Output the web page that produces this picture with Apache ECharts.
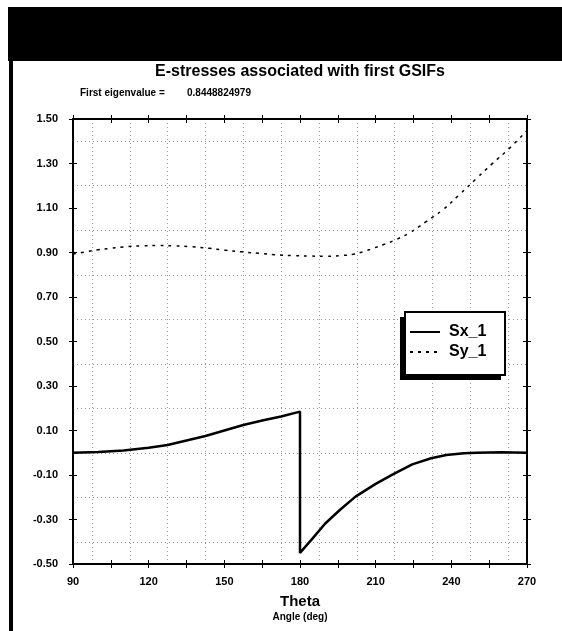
<!DOCTYPE html>
<html>
<head>
<meta charset="utf-8">
<script src="https://cdn.jsdelivr.net/npm/echarts@6/dist/echarts.min.js"></script>
<style>
  html, body { margin: 0; padding: 0; background: #fff; }
  #chart { width: 562px; height: 631px; }
</style>
</head>
<body>
<div id="chart"></div>
<script>
// values
const sxAngles = [90, 100, 110, 120, 127.5, 135, 142.5, 150, 157.5, 165, 172.5, 180, 180, 185, 190, 196, 202, 210, 217, 224.5, 232, 238, 245, 250, 260, 270]
const sxValues = [0.0, 0.003, 0.01, 0.022, 0.035, 0.055, 0.075, 0.1, 0.125, 0.145, 0.163, 0.185, -0.45, -0.385, -0.318, -0.255, -0.197, -0.14, -0.096, -0.052, -0.025, -0.01, -0.002, 0.0, 0.002, 0.0]

const syAngles = [90, 95, 100, 105, 110, 117, 124, 130, 137, 144, 150, 157, 164, 170, 177, 184, 190, 196, 201, 205, 209, 213, 217, 223, 230, 236.5, 243, 250, 256, 263, 270]
const syValues = [0.893, 0.903, 0.912, 0.919, 0.925, 0.93, 0.931, 0.93, 0.926, 0.919, 0.911, 0.903, 0.896, 0.89, 0.886, 0.884, 0.883, 0.886, 0.892, 0.903, 0.919, 0.935, 0.953, 0.986, 1.039, 1.091, 1.158, 1.233, 1.297, 1.368, 1.448]

const seriesNames = ['Sx_1', 'Sy_1']
const titleText = 'E-stresses associated with first GSIFs'
const eigenLabel = 'First eigenvalue ='
const eigenValue = '0.8448824979'

const FONT = '"Liberation Sans", Arial, sans-serif'

const pairs = (xs, ys) => xs.map((x, i) => [x, ys[i]])

const xAxisBase = (position, inside, withLabels) => ({
  type: 'value',
  position: position,
  min: 90,
  max: 270,
  interval: 15,
  axisLine: { show: true, onZero: false, lineStyle: { color: '#000', width: 2 } },
  axisTick: { show: true, inside: inside, length: 4, lineStyle: { color: '#000', width: 1 } },
  axisLabel: withLabels ? {
    show: true,
    margin: 12,
    color: '#000',
    fontFamily: FONT,
    fontWeight: 'bold',
    fontSize: 11,
    formatter: (v) => (v % 30 === 0 ? String(v) : '')
  } : { show: false },
  splitLine: { show: false },
  minorTick: { show: false, splitNumber: 2 },
  minorSplitLine: { show: withLabels, lineStyle: { color: '#999', type: [1, 3], width: 1 } }
})

const yAxisBase = (position, inside, withLabels) => ({
  type: 'value',
  position: position,
  min: -0.5,
  max: 1.5,
  interval: 0.2,
  axisLine: { show: true, onZero: false, lineStyle: { color: '#000', width: 2 } },
  axisTick: { show: true, inside: inside, length: 4, lineStyle: { color: '#000', width: 1 } },
  axisLabel: withLabels ? {
    show: true,
    margin: 15,
    color: '#000',
    fontFamily: FONT,
    fontWeight: 'bold',
    fontSize: 11,
    formatter: (v) => v.toFixed(2)
  } : { show: false },
  splitLine: { show: false },
  minorTick: { show: false, splitNumber: 2 },
  minorSplitLine: { show: withLabels, lineStyle: { color: '#999', type: [1, 3], width: 1 } }
})

const chart = echarts.init(document.getElementById('chart'), null, { renderer: 'canvas' })

const option = {
  backgroundColor: '#fff',
  animation: false,
  grid: { left: 73, right: 35, top: 119, bottom: 67 },
  xAxis: [
    xAxisBase('bottom', false, true),
    xAxisBase('bottom', true, false),
    xAxisBase('top', true, false),
    xAxisBase('top', false, false)
  ],
  yAxis: [
    yAxisBase('left', false, true),
    yAxisBase('left', true, false),
    yAxisBase('right', true, false),
    yAxisBase('right', false, false)
  ],
  legend: {
    orient: 'vertical',
    left: 405,
    top: 312,
    z: 10,
    padding: [12, 22, 17, 4],
    itemGap: 4,
    itemWidth: 30,
    itemHeight: 14,
    itemStyle: { opacity: 0 },
    textStyle: { color: '#000', fontFamily: FONT, fontWeight: 'bold', fontSize: 16, padding: [0, 0, 0, 4] },
    data: seriesNames
  },
  graphic: [
    { type: 'rect', shape: { x: 8, y: 7, width: 554, height: 54 }, style: { fill: '#000' } },
    { type: 'rect', shape: { x: 9, y: 61, width: 4, height: 570 }, style: { fill: '#000' } },
    // legend frame with its hard drop shadow
    { type: 'rect', z: 8, shape: { x: 400, y: 317, width: 101, height: 63 }, style: { fill: '#000' } },
    { type: 'rect', z: 9, shape: { x: 405, y: 312, width: 100, height: 63 }, style: { fill: '#fff', stroke: '#000', lineWidth: 2 } },
    { type: 'text', x: 300, y: 72, style: { text: titleText, font: 'bold 16px ' + FONT, fill: '#000', align: 'center', verticalAlign: 'middle' } },
    { type: 'text', x: 80, y: 93, style: { text: eigenLabel, font: 'bold 10px ' + FONT, fill: '#000', align: 'left', verticalAlign: 'middle' } },
    { type: 'text', x: 187, y: 93, style: { text: eigenValue, font: 'bold 10px ' + FONT, fill: '#000', align: 'left', verticalAlign: 'middle' } },
    { type: 'text', x: 300, y: 602, style: { text: 'Theta', font: 'bold 15px ' + FONT, fill: '#000', align: 'center', verticalAlign: 'middle' } },
    { type: 'text', x: 300, y: 617, style: { text: 'Angle (deg)', font: 'bold 10px ' + FONT, fill: '#000', align: 'center', verticalAlign: 'middle' } }
  ],
  series: [
    {
      name: seriesNames[0],
      type: 'line',
      xAxisIndex: 0,
      yAxisIndex: 0,
      symbol: 'none',
      smooth: false,
      lineStyle: { color: '#000', width: 2.5, type: 'solid' },
      itemStyle: { color: '#000' },
      data: pairs(sxAngles, sxValues)
    },
    {
      name: seriesNames[1],
      type: 'line',
      xAxisIndex: 0,
      yAxisIndex: 0,
      symbol: 'none',
      smooth: true,
      lineStyle: { color: '#000', width: 1.5, type: [3, 5] },
      itemStyle: { color: '#000' },
      data: pairs(syAngles, syValues)
    }
  ]
}

chart.setOption(option)
</script>
</body>
</html>
